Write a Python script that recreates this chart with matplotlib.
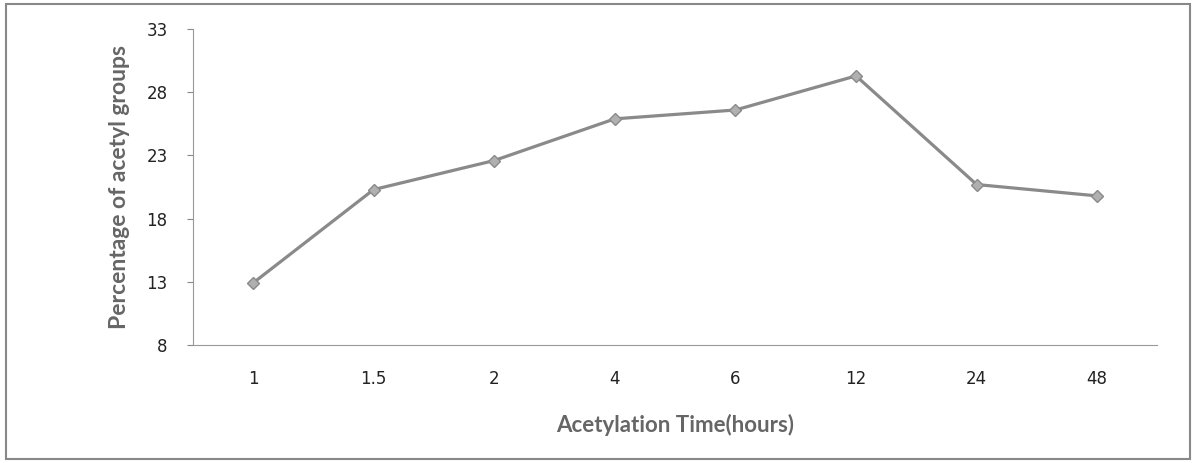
import matplotlib.pyplot as plt
from matplotlib.patches import Rectangle

times = ['1', '1.5', '2', '4', '6', '12', '24', '48']
acetyl = [12.9, 20.3, 22.6, 25.9, 26.6, 29.3, 20.7, 19.8]

plt.rcParams['font.family'] = ['DejaVu Sans']

fig = plt.figure(figsize=(11.97, 4.63), dpi=100)
ax = fig.add_axes([0.161, 0.255, 0.806, 0.682])

x = range(len(times))
ax.plot(x, acetyl, color='#8a8a8a', lw=2.3, marker='D', ms=6,
        markerfacecolor='#b0b0b0', markeredgecolor='#8a8a8a', markeredgewidth=1)

ax.set_xlim(-0.5, len(times) - 0.5)
ax.set_ylim(8, 33)
ax.set_yticks([8, 13, 18, 23, 28, 33])
ax.set_xticks(list(x))
ax.set_xticklabels(times)
ax.tick_params(axis='x', length=0, pad=18, labelsize=12, labelcolor='#222222')
ax.tick_params(axis='y', length=4, color='#888888', pad=14, labelsize=12,
               labelcolor='#222222')

for s in ['top', 'right']:
    ax.spines[s].set_visible(False)
ax.spines['left'].set_color('#999999')
ax.spines['bottom'].set_color('#999999')

ax.set_xlabel('Acetylation Time(hours)', fontsize=16, fontweight='bold',
              color='#666666', labelpad=19, family='Lato')
ax.set_ylabel('Percentage of acetyl groups', fontsize=16.5, fontweight='bold',
              color='#666666', labelpad=12, family='Lato')

fig.patches.append(Rectangle((0.005, 0.008), 0.989, 0.984, transform=fig.transFigure,
                             fill=False, edgecolor='#888888', lw=1.5))

fig.savefig('out.png', dpi=100)
